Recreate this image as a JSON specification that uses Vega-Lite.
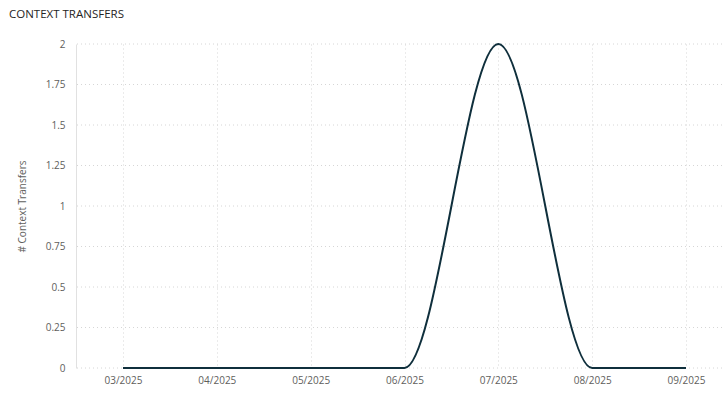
{
  "$schema": "https://vega.github.io/schema/vega-lite/v6.json",
  "width": 646,
  "height": 324,
  "autosize": {"type": "none"},
  "padding": {"left": 76, "top": 44, "right": 0, "bottom": 26},
  "background": "white",
  "config": {
    "view": {"stroke": null},
    "font": "Open Sans"
  },
  "title": {
    "text": "CONTEXT TRANSFERS",
    "anchor": "start",
    "frame": "group",
    "dx": -67,
    "offset": 19,
    "fontSize": 11.5,
    "fontWeight": "normal",
    "font": "Open Sans",
    "color": "#252423"
  },
  "datasets": {
    "series": [
      {"month": "03/2025", "transfers": 0},
      {"month": "04/2025", "transfers": 0},
      {"month": "05/2025", "transfers": 0},
      {"month": "06/2025", "transfers": 0},
      {"month": "07/2025", "transfers": 2},
      {"month": "08/2025", "transfers": 0},
      {"month": "09/2025", "transfers": 0}
    ],
    "grid": [
      {"level": 0}, {"level": 0.25}, {"level": 0.5}, {"level": 0.75}, {"level": 1},
      {"level": 1.25}, {"level": 1.5}, {"level": 1.75}, {"level": 2}
    ]
  },
  "layer": [
    {
      "data": {"name": "grid"},
      "mark": {"type": "rule", "color": "#d6d6d6", "strokeDash": [1, 3], "strokeWidth": 1},
      "encoding": {
        "y": {"field": "level", "type": "quantitative", "scale": {"domain": [0, 2], "nice": false}}
      }
    },
    {
      "data": {"name": "series"},
      "mark": {"type": "line", "interpolate": "monotone", "color": "#0f2f3c", "strokeWidth": 2},
      "encoding": {
        "x": {
          "field": "month",
          "type": "ordinal",
          "sort": null,
          "scale": {"type": "point", "range": [47, 610], "padding": 0},
          "axis": {
            "title": null,
            "labelAngle": 0,
            "labelFont": "Open Sans",
            "labelFontSize": 10,
            "labelColor": "#605e5c",
            "labelPadding": 7,
            "ticks": false,
            "domain": false,
            "grid": true,
            "gridColor": "#d6d6d6",
            "gridDash": [1, 3],
            "gridWidth": 1
          }
        },
        "y": {
          "field": "transfers",
          "type": "quantitative",
          "scale": {"domain": [0, 2], "nice": false},
          "axis": {
            "title": "# Context Transfers",
            "titleFont": "Open Sans",
            "titleFontSize": 10,
            "titleFontWeight": "normal",
            "titleColor": "#605e5c",
            "titlePadding": 18,
            "values": [0, 0.25, 0.5, 0.75, 1, 1.25, 1.5, 1.75, 2],
            "format": ".2~f",
            "labelFont": "Open Sans",
            "labelFontSize": 10,
            "labelColor": "#605e5c",
            "labelPadding": 11,
            "ticks": false,
            "domain": true,
            "domainColor": "#e1e1e1",
            "domainWidth": 1,
            "grid": false
          }
        }
      }
    }
  ]
}
